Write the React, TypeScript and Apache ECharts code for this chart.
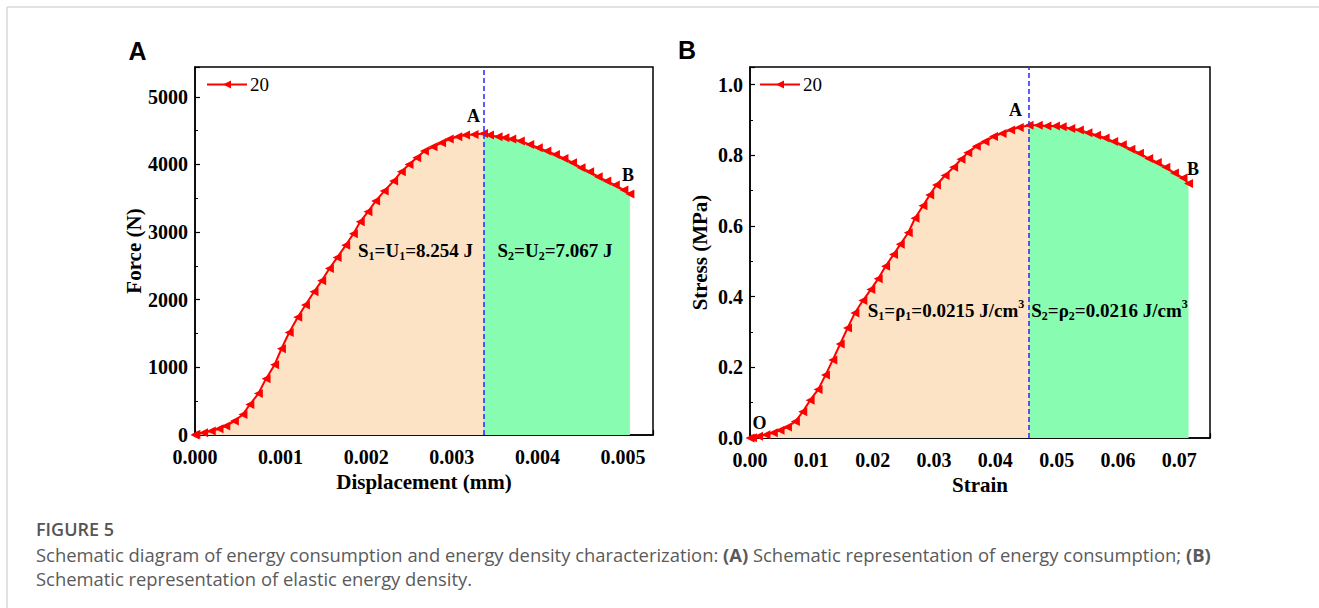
import React, { useEffect, useRef } from "react";
import * as echarts from "echarts";

// Panel A: force-displacement curve of specimen "20"
const displacementMm = [
  0, 0.00001, 0.0001, 0.00019, 0.00028, 0.00036, 0.00046, 0.00056, 0.00064, 0.00074, 0.00083,
  0.00093, 0.00101, 0.0011, 0.0012, 0.00129, 0.00139, 0.00148, 0.00157, 0.00166, 0.00176,
  0.00185, 0.00193, 0.00202, 0.00211, 0.00221, 0.00232, 0.00241, 0.0025, 0.00259, 0.00268,
  0.00278, 0.00288, 0.00297, 0.00307, 0.00316, 0.00326, 0.00337, 0.00344, 0.00354, 0.00362,
  0.0037, 0.0038, 0.00391, 0.00401, 0.00411, 0.00421, 0.00431, 0.00441, 0.00451, 0.00461,
  0.00471, 0.00481, 0.00491, 0.00501, 0.00508,
];
const forceN = [
  0, 10, 34, 59, 93, 132, 206, 304, 451, 613, 833,
  1039, 1275, 1515, 1740, 1922, 2118, 2279, 2461, 2623, 2804,
  2975, 3153, 3300, 3458, 3606, 3754, 3892, 4000, 4099, 4197,
  4261, 4320, 4374, 4409, 4433, 4443, 4458, 4433, 4409, 4394,
  4374, 4345, 4296, 4246, 4197, 4148, 4089, 4025, 3951, 3892,
  3818, 3754, 3695, 3621, 3562,
];
const peakDisplacement = 0.00337;

// Panel B: stress-strain curve of the same specimen
const strain = [
  0, 0.0004, 0.0014, 0.0026, 0.0038, 0.0049, 0.0061, 0.0074, 0.0086, 0.0098, 0.0111,
  0.0123, 0.0135, 0.0147, 0.0159, 0.0171, 0.0184, 0.0197, 0.0209, 0.0221, 0.0234,
  0.0245, 0.0258, 0.0269, 0.0282, 0.0293, 0.0304, 0.0318, 0.0332, 0.0344, 0.0355,
  0.0369, 0.0383, 0.0397, 0.0411, 0.0425, 0.0439, 0.0455, 0.047, 0.0484, 0.0498,
  0.0509, 0.0523, 0.0537, 0.0551, 0.0565, 0.0579, 0.0593, 0.0607, 0.0621, 0.0635,
  0.065, 0.0664, 0.0678, 0.0692, 0.0706, 0.0715,
];
const stressMPa = [
  0, 0.001, 0.005, 0.009, 0.015, 0.022, 0.031, 0.047, 0.074, 0.107, 0.137,
  0.178, 0.221, 0.266, 0.311, 0.354, 0.389, 0.42, 0.451, 0.486, 0.519,
  0.548, 0.581, 0.622, 0.657, 0.688, 0.716, 0.743, 0.766, 0.789, 0.807,
  0.826, 0.839, 0.853, 0.862, 0.872, 0.879, 0.885, 0.885, 0.883, 0.883,
  0.881, 0.876, 0.872, 0.864, 0.857, 0.849, 0.839, 0.83, 0.817, 0.806,
  0.791, 0.78, 0.766, 0.75, 0.736, 0.72,
];
const peakStrain = 0.0455;

const specimenName = "20";
const energyLabelsA = ["{m|S}{s|1}{m|=U}{s|1}{m|=8.254 J}", "{m|S}{s|2}{m|=U}{s|2}{m|=7.067 J}"];
const energyLabelsB = [
  "{m|S}{s|1}{m|=ρ}{s|1}{m|=0.0215 J/cm}{p|3}",
  "{m|S}{s|2}{m|=ρ}{s|2}{m|=0.0216 J/cm}{p|3}",
];

const SERIF = "'Liberation Serif', 'Times New Roman', serif";
const SANS = "'Liberation Sans', Arial, sans-serif";
const CAPTION = "'Open Sans', 'Noto Sans', sans-serif";
const RED = "#ff0000";
const ORANGE_FILL = "#fde3c5";
const GREEN_FILL = "#88fdb2";
const BLUE_DASH = "#3232ff";
const CAPTION_GREY = "#5a5a5a";

const zip = (xs: number[], ys: number[]) => xs.map((x, i) => [x, ys[i]]);

const richAnn = {
  m: { fontFamily: SERIF, fontWeight: "bold", fontSize: 19, lineHeight: 24, fill: "#000" },
  s: { fontFamily: SERIF, fontWeight: "bold", fontSize: 12, lineHeight: 13, verticalAlign: "bottom", fill: "#000" },
  p: { fontFamily: SERIF, fontWeight: "bold", fontSize: 12, lineHeight: 13, verticalAlign: "top", fill: "#000" },
};

function valueAxis(
  gridIndex: number,
  min: number,
  max: number,
  interval: number,
  decimals: number,
  name: string,
  nameGap: number,
  horizontal: boolean
) {
  return {
    type: "value",
    gridIndex,
    min,
    max,
    interval,
    name,
    nameLocation: "middle",
    nameGap,
    nameRotate: horizontal ? 0 : 90,
    nameTextStyle: { fontFamily: SERIF, fontWeight: "bold", fontSize: 21, color: "#000" },
    axisLine: { show: true, onZero: false, lineStyle: { color: "#000", width: 1.5 } },
    axisTick: { show: true, inside: true, length: 5, lineStyle: { color: "#000", width: 1.2 } },
    minorTick: { show: true, splitNumber: 2, length: 3, lineStyle: { color: "#000", width: 1 } },
    splitLine: { show: false },
    axisLabel: {
      fontFamily: SERIF,
      fontWeight: "bold",
      fontSize: 20,
      lineHeight: 17,
      color: "#000",
      margin: horizontal ? 13 : 7,
      showMaxLabel: false,
      formatter: (v: number) => v.toFixed(decimals),
    },
  };
}

function curveSeries(axisIndex: number, pts: number[][], split: number) {
  const fillBase = {
    type: "line",
    xAxisIndex: axisIndex,
    yAxisIndex: axisIndex,
    showSymbol: false,
    symbol: "none",
    silent: true,
    lineStyle: { width: 0 },
  };
  return [
    {
      ...fillBase,
      z: 1,
      data: pts.filter((p) => p[0] <= split),
      areaStyle: { color: ORANGE_FILL, opacity: 1 },
    },
    {
      ...fillBase,
      z: 2,
      data: pts.filter((p) => p[0] >= split),
      areaStyle: { color: GREEN_FILL, opacity: 1 },
      markLine: {
        silent: true,
        symbol: "none",
        precision: 10,
        label: { show: false },
        lineStyle: { color: BLUE_DASH, type: [5, 3], width: 1.6 },
        data: [{ xAxis: split }],
      },
    },
    {
      name: specimenName,
      type: "line",
      xAxisIndex: axisIndex,
      yAxisIndex: axisIndex,
      z: 3,
      data: pts,
      symbol: "triangle",
      symbolRotate: 90,
      symbolSize: 9,
      showAllSymbol: true,
      lineStyle: { color: RED, width: 2 },
      itemStyle: { color: RED },
    },
  ];
}

function annText(x: number, y: number, text: string) {
  return {
    type: "text",
    x,
    y,
    z: 10,
    style: { text, rich: richAnn, align: "center", verticalAlign: "middle", fill: "#000" },
  };
}

function plainText(x: number, y: number, text: string, font: string, size: number, weight = "bold") {
  return {
    type: "text",
    x,
    y,
    z: 10,
    style: {
      text,
      fontFamily: font,
      fontSize: size,
      fontWeight: weight,
      fill: "#000",
      align: "center",
      verticalAlign: "middle",
    },
  };
}

export default function App() {
  const ref = useRef<HTMLDivElement>(null);

  useEffect(() => {
    if (!ref.current) return;
    const chart = echarts.init(ref.current, null, { renderer: "svg", width: 1319, height: 608 });

    const ptsA = zip(displacementMm, forceN);
    const ptsB = zip(strain, stressMPa);

    const legendBase = {
      data: [specimenName],
      orient: "horizontal",
      padding: 0,
      itemWidth: 40,
      itemHeight: 10,
      selectedMode: false,
      textStyle: { fontFamily: SERIF, fontSize: 19, color: "#000", padding: [0, 0, 0, -2] },
    };

    const option = {
      animation: false,
      backgroundColor: "#fff",
      grid: [
        { left: 195, top: 67, width: 458, height: 368, show: true, borderColor: "#000", borderWidth: 1.5, backgroundColor: "transparent" },
        { left: 750, top: 67, width: 460, height: 371, show: true, borderColor: "#000", borderWidth: 1.5, backgroundColor: "transparent" },
      ],
      xAxis: [
        valueAxis(0, 0, 0.00535, 0.001, 3, "Displacement (mm)", 30, true),
        valueAxis(1, 0, 0.075, 0.01, 2, "Strain", 28, true),
      ],
      yAxis: [
        valueAxis(0, 0, 5440, 1000, 0, "Force (N)", 50, false),
        valueAxis(1, 0, 1.05, 0.2, 1, "Stress (MPa)", 40, false),
      ],
      legend: [
        { ...legendBase, left: 206, top: 75 },
        { ...legendBase, left: 759, top: 75 },
      ],
      series: [...curveSeries(0, ptsA, peakDisplacement), ...curveSeries(1, ptsB, peakStrain)],
      graphic: [
        // page frame
        { type: "line", shape: { x1: 7, y1: 7, x2: 1319, y2: 7 }, style: { stroke: "#d8d8d8", lineWidth: 1.5 } },
        { type: "line", shape: { x1: 7, y1: 7, x2: 7, y2: 608 }, style: { stroke: "#d8d8d8", lineWidth: 1.5 } },
        // panel letters
        plainText(137.5, 51, "A", SANS, 25),
        plainText(687, 50, "B", SANS, 25),
        // panel A annotations
        plainText(473.5, 115.5, "A", SERIF, 18),
        plainText(628, 175, "B", SERIF, 18),
        annText(415.5, 250, energyLabelsA[0]),
        annText(555, 250, energyLabelsA[1]),
        // panel B annotations
        plainText(1015.5, 110, "A", SERIF, 18),
        plainText(1193, 169, "B", SERIF, 18),
        plainText(759.5, 422.5, "O", SERIF, 18),
        annText(946, 310, energyLabelsB[0]),
        annText(1109.5, 310, energyLabelsB[1]),
        // caption
        {
          type: "text",
          x: 36,
          y: 529,
          style: { text: "FIGURE 5", fontFamily: CAPTION, fontSize: 18, fontWeight: 600, fill: "#555", verticalAlign: "middle" },
        },
        {
          type: "text",
          x: 36,
          y: 554,
          style: {
            text:
              "Schematic diagram of energy consumption and energy density characterization: {b|(A)} Schematic representation of energy consumption; {b|(B)}",
            fontFamily: CAPTION,
            fontSize: 18.4,
            fill: CAPTION_GREY,
            verticalAlign: "middle",
            rich: { b: { fontFamily: CAPTION, fontSize: 18.4, fontWeight: "bold", fill: CAPTION_GREY } },
          },
        },
        {
          type: "text",
          x: 36,
          y: 578,
          style: {
            text: "Schematic representation of elastic energy density.",
            fontFamily: CAPTION,
            fontSize: 18.4,
            fill: CAPTION_GREY,
            verticalAlign: "middle",
          },
        },
      ],
    };

    chart.setOption(option as any);
    return () => chart.dispose();
  }, []);

  return (
    <div
      ref={ref}
      style={{ position: "fixed", left: 0, top: 0, width: 1319, height: 608, background: "#fff" }}
    />
  );
}
